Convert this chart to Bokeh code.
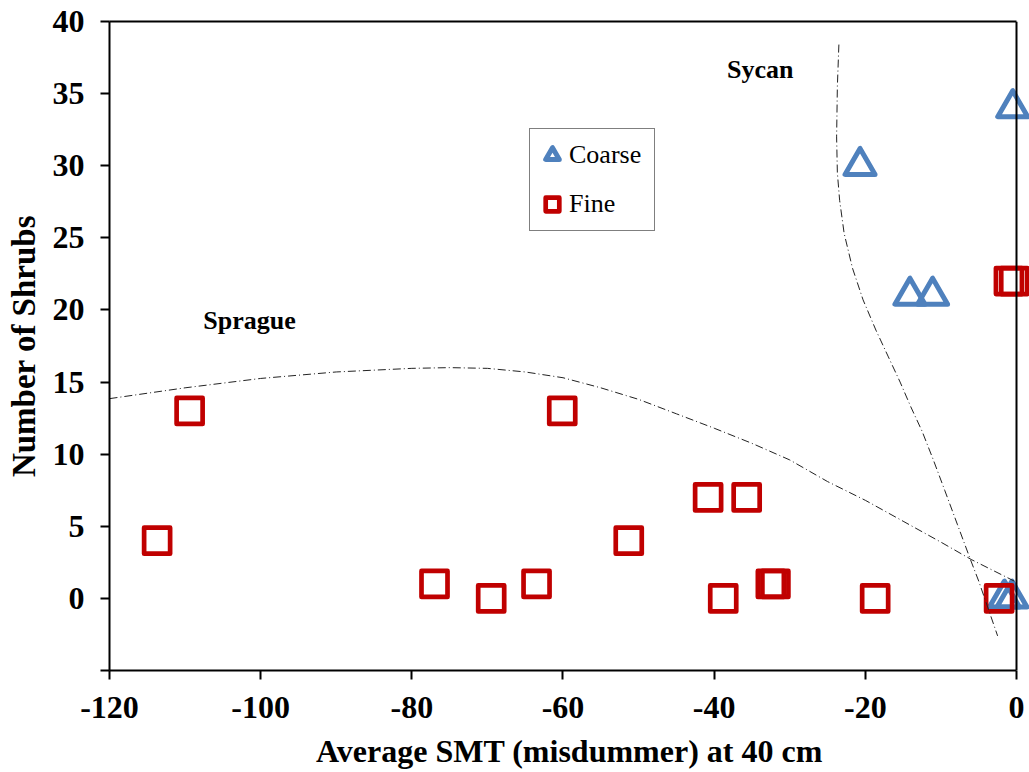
from bokeh.plotting import figure
from bokeh.models import (Range1d, FixedTicker, LinearAxis, Span, Label,
                          Legend, LegendItem)
from bokeh.embed import file_html
from bokeh.resources import INLINE

# Shrub counts against average midsummer soil temperature at 40 cm
fine_smt = [-113.7, -109.4, -77.0, -69.5, -63.5, -60.1, -51.3, -40.8,
            -35.7, -38.8, -32.5, -31.9, -18.7, -2.3, -1.0, -0.3]
fine_shrubs = [4, 13, 1, 0, 1, 13, 4, 7, 7, 0, 1, 1, 0, 0, 22, 22]

coarse_smt = [-20.7, -14.1, -11.1, -0.5, -1.6, -0.6]
coarse_shrubs = [30, 21, 21, 34, 0, 0]

# Hand-drawn boundaries separating the two sites
sprague_x = [-120, -110, -100, -90, -80, -75, -70, -65, -60, -55, -50, -45,
             -40, -35, -30, -25, -20, -15, -10, -6, -0.3]
sprague_y = [13.85, 14.6, 15.25, 15.7, 15.95, 16.0, 15.95, 15.7, 15.3, 14.6,
             13.8, 12.8, 11.8, 10.75, 9.6, 8.1, 6.8, 5.35, 3.9, 2.7, 1.2]

sycan_x = [-23.5, -23.7, -23.8, -23.7, -23.4, -22.8, -21.7, -20.3, -18.6,
           -17.0, -15.4, -14.0, -12.5, -11.0, -9.5, -7.8, -6.1, -5.0, -2.5]
sycan_y = [38.4, 35.5, 32.0, 29.5, 27.6, 25.3, 22.9, 20.7, 18.6, 16.8, 15.0,
           13.3, 11.6, 9.6, 7.5, 5.1, 2.7, 1.2, -2.6]

x_ticks = [-120, -100, -80, -60, -40, -20, 0]
y_ticks = [-5, 0, 5, 10, 15, 20, 25, 30, 35, 40]

FONT = "Liberation Serif"
RED = "#C00000"
BLUE = "#4F81BD"

p = figure(width=1029, height=772,
           x_range=Range1d(-120, 1.72), y_range=Range1d(-5, 40),
           output_backend="svg", toolbar_location=None,
           min_border_left=109, min_border_right=0,
           min_border_top=21, min_border_bottom=102,
           background_fill_color="white", border_fill_color="white",
           outline_line_color=None)
p.grid.visible = False


def style_axis(ax):
    ax.axis_line_color = "black"
    ax.axis_line_width = 2
    ax.major_tick_line_color = "black"
    ax.major_tick_line_width = 2
    ax.major_tick_out = 9
    ax.major_tick_in = 0
    ax.minor_tick_line_color = None
    ax.major_label_text_font = FONT
    ax.major_label_text_font_style = "bold"
    ax.major_label_text_color = "black"
    ax.axis_label_text_font = FONT
    ax.axis_label_text_font_style = "bold"
    ax.axis_label_text_color = "black"


xa = p.xaxis[0]
style_axis(xa)
xa.ticker = FixedTicker(ticks=x_ticks)
xa.major_label_overrides = {t: str(t) for t in x_ticks}
xa.bounds = (-120, 0)
xa.major_label_text_font_size = "32px"
xa.major_label_standoff = 17
xa.axis_label = "Average SMT (misdummer) at 40 cm"
xa.axis_label_text_font_size = "32px"
xa.axis_label_standoff = 12

ya = p.yaxis[0]
style_axis(ya)
ya.ticker = FixedTicker(ticks=y_ticks)
ya.major_label_overrides = {t: ("" if t < 0 else str(t)) for t in y_ticks}
ya.major_label_text_font_size = "32px"
ya.major_label_standoff = 16
ya.axis_label = "Number of Shrubs"
ya.axis_label_text_font_size = "33px"
ya.axis_label_standoff = 8

# top edge of the plot box
top = LinearAxis(ticker=FixedTicker(ticks=[]), bounds=(-120, 0),
                 axis_line_color="black", axis_line_width=2,
                 major_tick_out=0, major_tick_in=0, minor_tick_out=0,
                 major_label_text_font_size="0px")
p.add_layout(top, "above")

r_coarse = p.scatter(coarse_smt, coarse_shrubs, marker="triangle", size=30,
                     line_color=BLUE, line_width=5, fill_color=None,
                     line_join="round")
r_fine = p.scatter(fine_smt, fine_shrubs, marker="square", size=26,
                   line_color=RED, line_width=4.7, fill_color=None,
                   line_join="round")

p.line(sprague_x, sprague_y, line_color="#222222", line_width=1,
       line_dash="8 3 1 3")
p.line(sycan_x, sycan_y, line_color="#222222", line_width=1,
       line_dash="8 3 1 3")

# right edge of the plot box at x = 0
p.add_layout(Span(location=0, dimension="height", line_color="black",
                  line_width=2))

for txt, lx, ly in [("Sycan", -38.3, 36.7), ("Sprague", -107.6, 19.3)]:
    p.add_layout(Label(x=lx, y=ly, text=txt, text_font=FONT,
                       text_font_style="bold", text_font_size="26px",
                       text_color="black", text_baseline="alphabetic"))

legend = Legend(items=[LegendItem(label="Coarse", renderers=[r_coarse]),
                       LegendItem(label="Fine", renderers=[r_fine])],
                location=(420, 439),
                border_line_color="black", border_line_width=1,
                background_fill_color="white", background_fill_alpha=1,
                padding=5, spacing=7, margin=0,
                glyph_width=34, glyph_height=42,
                label_standoff=0, label_width=80,
                label_text_font=FONT, label_text_font_size="26px",
                label_text_color="black")
p.add_layout(legend)

open("out.html", "w").write(file_html(p, INLINE))
